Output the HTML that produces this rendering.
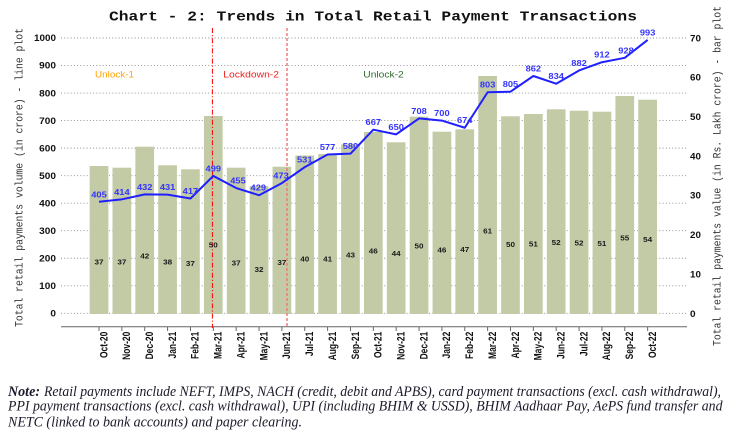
<!DOCTYPE html>
<html><head><meta charset="utf-8"><style>
html,body{margin:0;padding:0;background:#fff;}
svg{display:block;}
.tl{font-family:"Liberation Sans",Arial,sans-serif;font-weight:bold;font-size:9px;fill:#111;}
.ll{font-family:"Liberation Sans",Arial,sans-serif;font-weight:bold;font-size:8.5px;fill:#3333ff;text-anchor:middle;}
.bl{font-family:"Liberation Sans",Arial,sans-serif;font-weight:bold;font-size:7.5px;fill:#1a1a1a;text-anchor:middle;}
.xl{font-family:"Liberation Sans",Arial,sans-serif;font-weight:bold;font-size:11px;fill:#111;text-anchor:end;}
.mono{font-family:"Liberation Mono","Courier New",monospace;}
.nt{font-family:"Liberation Serif","Times New Roman",serif;font-style:italic;font-size:14.5px;fill:#1a1a2a;}
</style></head><body>
<svg width="732" height="439" viewBox="0 0 732 439" xmlns="http://www.w3.org/2000/svg">
<rect width="732" height="439" fill="#fff"/>
<!-- title -->
<text x="109" y="20.7" class="mono" font-weight="bold" font-size="13.5" fill="#111" textLength="528" lengthAdjust="spacingAndGlyphs">Chart - 2: Trends in Total Retail Payment Transactions</text>
<!-- gridlines -->
<g stroke="#8a8a8a" stroke-width="0.9" stroke-dasharray="1,2.2">
<line x1="61" y1="313.3" x2="687" y2="313.3"/>
<line x1="61" y1="285.77" x2="687" y2="285.77"/>
<line x1="61" y1="258.24" x2="687" y2="258.24"/>
<line x1="61" y1="230.71" x2="687" y2="230.71"/>
<line x1="61" y1="203.18" x2="687" y2="203.18"/>
<line x1="61" y1="175.65" x2="687" y2="175.65"/>
<line x1="61" y1="148.12" x2="687" y2="148.12"/>
<line x1="61" y1="120.59" x2="687" y2="120.59"/>
<line x1="61" y1="93.06" x2="687" y2="93.06"/>
<line x1="61" y1="65.53" x2="687" y2="65.53"/>
<line x1="61" y1="38" x2="687" y2="38"/>
</g>
<!-- bars -->
<g fill="#c3cba6">
<rect x="89.65" y="166" width="18.7" height="148"/>
<rect x="112.51" y="167.7" width="18.7" height="146.3"/>
<rect x="135.37" y="146.7" width="18.7" height="167.3"/>
<rect x="158.23" y="165.3" width="18.7" height="148.7"/>
<rect x="181.09" y="169.3" width="18.7" height="144.7"/>
<rect x="203.95" y="116" width="18.7" height="198"/>
<rect x="226.81" y="167.7" width="18.7" height="146.3"/>
<rect x="249.67" y="186" width="18.7" height="128"/>
<rect x="272.53" y="166.7" width="18.7" height="147.3"/>
<rect x="295.39" y="155.5" width="18.7" height="158.5"/>
<rect x="318.25" y="154" width="18.7" height="160"/>
<rect x="341.11" y="144.3" width="18.7" height="169.7"/>
<rect x="363.97" y="132" width="18.7" height="182"/>
<rect x="386.83" y="142.3" width="18.7" height="171.7"/>
<rect x="409.69" y="116.7" width="18.7" height="197.3"/>
<rect x="432.55" y="131.7" width="18.7" height="182.3"/>
<rect x="455.41" y="129.3" width="18.7" height="184.7"/>
<rect x="478.27" y="76" width="18.7" height="238"/>
<rect x="501.13" y="116.3" width="18.7" height="197.7"/>
<rect x="523.99" y="114" width="18.7" height="200"/>
<rect x="546.85" y="109.3" width="18.7" height="204.7"/>
<rect x="569.71" y="110.7" width="18.7" height="203.3"/>
<rect x="592.57" y="111.7" width="18.7" height="202.3"/>
<rect x="615.43" y="96" width="18.7" height="218"/>
<rect x="638.29" y="99.7" width="18.7" height="214.3"/>
</g>
<!-- axis line & ticks -->
<line x1="61" y1="326.7" x2="687" y2="326.7" stroke="#666" stroke-width="1"/>
<g stroke="#666" stroke-width="1">
<line x1="99" y1="326.7" x2="99" y2="331"/><line x1="121.86" y1="326.7" x2="121.86" y2="331"/><line x1="144.72" y1="326.7" x2="144.72" y2="331"/><line x1="167.58" y1="326.7" x2="167.58" y2="331"/><line x1="190.44" y1="326.7" x2="190.44" y2="331"/><line x1="213.3" y1="326.7" x2="213.3" y2="331"/><line x1="236.16" y1="326.7" x2="236.16" y2="331"/><line x1="259.02" y1="326.7" x2="259.02" y2="331"/><line x1="281.88" y1="326.7" x2="281.88" y2="331"/><line x1="304.74" y1="326.7" x2="304.74" y2="331"/><line x1="327.6" y1="326.7" x2="327.6" y2="331"/><line x1="350.46" y1="326.7" x2="350.46" y2="331"/><line x1="373.32" y1="326.7" x2="373.32" y2="331"/><line x1="396.18" y1="326.7" x2="396.18" y2="331"/><line x1="419.04" y1="326.7" x2="419.04" y2="331"/><line x1="441.9" y1="326.7" x2="441.9" y2="331"/><line x1="464.76" y1="326.7" x2="464.76" y2="331"/><line x1="487.62" y1="326.7" x2="487.62" y2="331"/><line x1="510.48" y1="326.7" x2="510.48" y2="331"/><line x1="533.34" y1="326.7" x2="533.34" y2="331"/><line x1="556.2" y1="326.7" x2="556.2" y2="331"/><line x1="579.06" y1="326.7" x2="579.06" y2="331"/><line x1="601.92" y1="326.7" x2="601.92" y2="331"/><line x1="624.78" y1="326.7" x2="624.78" y2="331"/><line x1="647.64" y1="326.7" x2="647.64" y2="331"/>
</g>
<!-- red vertical lines -->
<line x1="212.4" y1="28" x2="212.4" y2="328" stroke="#ff0000" stroke-width="1" stroke-dasharray="5,2,1.2,2"/>
<line x1="287" y1="28" x2="287" y2="328" stroke="#f07a7a" stroke-width="1.5" stroke-dasharray="3,2"/>
<!-- phase labels -->
<g font-family="'Liberation Sans',Arial,sans-serif" font-size="9">
<text x="95" y="77.5" fill="#ffa500" textLength="39" lengthAdjust="spacingAndGlyphs">Unlock-1</text>
<text x="223.3" y="77.5" fill="#f02020" textLength="55.7" lengthAdjust="spacingAndGlyphs">Lockdown-2</text>
<text x="363.3" y="77.5" fill="#2e6e2e" textLength="40.4" lengthAdjust="spacingAndGlyphs">Unlock-2</text>
</g>
<!-- blue line -->
<polyline fill="none" stroke="#1f1fff" stroke-width="2" stroke-linejoin="round" points="99,201.8 121.86,199.33 144.72,194.37 167.58,194.65 190.44,198.5 213.3,175.93 236.16,188.04 259.02,195.2 281.88,183.08 304.74,167.12 327.6,154.45 350.46,153.63 373.32,129.67 396.18,134.35 419.04,118.39 441.9,120.59 464.76,127.75 487.62,92.23 510.48,91.68 533.34,75.99 556.2,83.7 579.06,70.49 601.92,62.23 624.78,57.82 647.64,39.93"/>
<!-- line labels -->
<g class="ll">
<text x="99" y="197.3" textLength="15.5" lengthAdjust="spacingAndGlyphs">405</text>
<text x="121.86" y="194.8" textLength="15.5" lengthAdjust="spacingAndGlyphs">414</text>
<text x="144.72" y="189.9" textLength="15.5" lengthAdjust="spacingAndGlyphs">432</text>
<text x="167.58" y="190.1" textLength="15.5" lengthAdjust="spacingAndGlyphs">431</text>
<text x="190.44" y="194" textLength="15.5" lengthAdjust="spacingAndGlyphs">417</text>
<text x="213.3" y="171.4" textLength="15.5" lengthAdjust="spacingAndGlyphs">499</text>
<text x="238" y="183.5" textLength="15.5" lengthAdjust="spacingAndGlyphs">455</text>
<text x="258.3" y="190.7" textLength="15.5" lengthAdjust="spacingAndGlyphs">429</text>
<text x="281" y="178.6" textLength="15.5" lengthAdjust="spacingAndGlyphs">473</text>
<text x="304.74" y="162.6" textLength="15.5" lengthAdjust="spacingAndGlyphs">531</text>
<text x="327.6" y="149.9" textLength="15.5" lengthAdjust="spacingAndGlyphs">577</text>
<text x="350.46" y="149.1" textLength="15.5" lengthAdjust="spacingAndGlyphs">580</text>
<text x="373.32" y="125.2" textLength="15.5" lengthAdjust="spacingAndGlyphs">667</text>
<text x="396.18" y="129.8" textLength="15.5" lengthAdjust="spacingAndGlyphs">650</text>
<text x="419.04" y="113.9" textLength="15.5" lengthAdjust="spacingAndGlyphs">708</text>
<text x="441.9" y="116.1" textLength="15.5" lengthAdjust="spacingAndGlyphs">700</text>
<text x="464.76" y="123.2" textLength="15.5" lengthAdjust="spacingAndGlyphs">674</text>
<text x="487.62" y="87.7" textLength="15.5" lengthAdjust="spacingAndGlyphs">803</text>
<text x="510.48" y="87.2" textLength="15.5" lengthAdjust="spacingAndGlyphs">805</text>
<text x="533.34" y="71.5" textLength="15.5" lengthAdjust="spacingAndGlyphs">862</text>
<text x="556.2" y="79.2" textLength="15.5" lengthAdjust="spacingAndGlyphs">834</text>
<text x="579.06" y="66" textLength="15.5" lengthAdjust="spacingAndGlyphs">882</text>
<text x="601.92" y="57.7" textLength="15.5" lengthAdjust="spacingAndGlyphs">912</text>
<text x="626" y="53.3" textLength="15.5" lengthAdjust="spacingAndGlyphs">928</text>
<text x="647.64" y="35.4" textLength="15.5" lengthAdjust="spacingAndGlyphs">993</text>
</g>
<!-- bar labels -->
<g class="bl">
<text x="99" y="264.6" textLength="9" lengthAdjust="spacingAndGlyphs">37</text>
<text x="121.86" y="264.6" textLength="9" lengthAdjust="spacingAndGlyphs">37</text>
<text x="144.72" y="258.6" textLength="9" lengthAdjust="spacingAndGlyphs">42</text>
<text x="167.58" y="264.6" textLength="9" lengthAdjust="spacingAndGlyphs">38</text>
<text x="190.44" y="265.9" textLength="9" lengthAdjust="spacingAndGlyphs">37</text>
<text x="213.3" y="247.6" textLength="9" lengthAdjust="spacingAndGlyphs">50</text>
<text x="236.16" y="265.3" textLength="9" lengthAdjust="spacingAndGlyphs">37</text>
<text x="259.02" y="271.9" textLength="9" lengthAdjust="spacingAndGlyphs">32</text>
<text x="281.88" y="264.9" textLength="9" lengthAdjust="spacingAndGlyphs">37</text>
<text x="304.74" y="261.3" textLength="9" lengthAdjust="spacingAndGlyphs">40</text>
<text x="327.6" y="261.3" textLength="9" lengthAdjust="spacingAndGlyphs">41</text>
<text x="350.46" y="257.3" textLength="9" lengthAdjust="spacingAndGlyphs">43</text>
<text x="373.32" y="253.3" textLength="9" lengthAdjust="spacingAndGlyphs">46</text>
<text x="396.18" y="255.9" textLength="9" lengthAdjust="spacingAndGlyphs">44</text>
<text x="419.04" y="248.3" textLength="9" lengthAdjust="spacingAndGlyphs">50</text>
<text x="441.9" y="252.6" textLength="9" lengthAdjust="spacingAndGlyphs">46</text>
<text x="464.76" y="251.9" textLength="9" lengthAdjust="spacingAndGlyphs">47</text>
<text x="487.62" y="233.6" textLength="9" lengthAdjust="spacingAndGlyphs">61</text>
<text x="510.48" y="246.9" textLength="9" lengthAdjust="spacingAndGlyphs">50</text>
<text x="533.34" y="246.3" textLength="9" lengthAdjust="spacingAndGlyphs">51</text>
<text x="556.2" y="244.9" textLength="9" lengthAdjust="spacingAndGlyphs">52</text>
<text x="579.06" y="245.6" textLength="9" lengthAdjust="spacingAndGlyphs">52</text>
<text x="601.92" y="245.9" textLength="9" lengthAdjust="spacingAndGlyphs">51</text>
<text x="624.78" y="240.3" textLength="9" lengthAdjust="spacingAndGlyphs">55</text>
<text x="647.64" y="241.9" textLength="9" lengthAdjust="spacingAndGlyphs">54</text>
</g>
<!-- left tick labels -->
<g class="tl" text-anchor="end">
<text x="56" y="316.5" textLength="5.6" lengthAdjust="spacingAndGlyphs">0</text>
<text x="56" y="289" textLength="16.8" lengthAdjust="spacingAndGlyphs">100</text>
<text x="56" y="261.5" textLength="16.8" lengthAdjust="spacingAndGlyphs">200</text>
<text x="56" y="233.9" textLength="16.8" lengthAdjust="spacingAndGlyphs">300</text>
<text x="56" y="206.4" textLength="16.8" lengthAdjust="spacingAndGlyphs">400</text>
<text x="56" y="178.9" textLength="16.8" lengthAdjust="spacingAndGlyphs">500</text>
<text x="56" y="151.3" textLength="16.8" lengthAdjust="spacingAndGlyphs">600</text>
<text x="56" y="123.8" textLength="16.8" lengthAdjust="spacingAndGlyphs">700</text>
<text x="56" y="96.3" textLength="16.8" lengthAdjust="spacingAndGlyphs">800</text>
<text x="56" y="68.7" textLength="16.8" lengthAdjust="spacingAndGlyphs">900</text>
<text x="56" y="41.2" textLength="22" lengthAdjust="spacingAndGlyphs">1000</text>
</g>
<!-- right tick labels -->
<g class="tl">
<text x="690" y="41.6" textLength="10.9" lengthAdjust="spacingAndGlyphs">70</text>
<text x="690" y="80.6" textLength="10.9" lengthAdjust="spacingAndGlyphs">60</text>
<text x="690" y="120.2" textLength="10.9" lengthAdjust="spacingAndGlyphs">50</text>
<text x="690" y="159.6" textLength="10.9" lengthAdjust="spacingAndGlyphs">40</text>
<text x="690" y="198.6" textLength="10.9" lengthAdjust="spacingAndGlyphs">30</text>
<text x="690" y="238.2" textLength="10.9" lengthAdjust="spacingAndGlyphs">20</text>
<text x="690" y="277.6" textLength="10.9" lengthAdjust="spacingAndGlyphs">10</text>
<text x="690" y="317.2" textLength="5.6" lengthAdjust="spacingAndGlyphs">0</text>
</g>
<!-- x labels -->
<g class="xl">
<text transform="translate(107.3,331.7) rotate(-90) scale(0.77,1)">Oct-20</text>
<text transform="translate(130.16,331.7) rotate(-90) scale(0.77,1)">Nov-20</text>
<text transform="translate(153.02,331.7) rotate(-90) scale(0.77,1)">Dec-20</text>
<text transform="translate(175.88,331.7) rotate(-90) scale(0.77,1)">Jan-21</text>
<text transform="translate(198.74,331.7) rotate(-90) scale(0.77,1)">Feb-21</text>
<text transform="translate(221.6,331.7) rotate(-90) scale(0.77,1)">Mar-21</text>
<text transform="translate(244.46,331.7) rotate(-90) scale(0.77,1)">Apr-21</text>
<text transform="translate(267.32,331.7) rotate(-90) scale(0.77,1)">May-21</text>
<text transform="translate(290.18,331.7) rotate(-90) scale(0.77,1)">Jun-21</text>
<text transform="translate(313.04,331.7) rotate(-90) scale(0.77,1)">Jul-21</text>
<text transform="translate(335.9,331.7) rotate(-90) scale(0.77,1)">Aug-21</text>
<text transform="translate(358.76,331.7) rotate(-90) scale(0.77,1)">Sep-21</text>
<text transform="translate(381.62,331.7) rotate(-90) scale(0.77,1)">Oct-21</text>
<text transform="translate(404.48,331.7) rotate(-90) scale(0.77,1)">Nov-21</text>
<text transform="translate(427.34,331.7) rotate(-90) scale(0.77,1)">Dec-21</text>
<text transform="translate(450.2,331.7) rotate(-90) scale(0.77,1)">Jan-22</text>
<text transform="translate(473.06,331.7) rotate(-90) scale(0.77,1)">Feb-22</text>
<text transform="translate(495.92,331.7) rotate(-90) scale(0.77,1)">Mar-22</text>
<text transform="translate(518.78,331.7) rotate(-90) scale(0.77,1)">Apr-22</text>
<text transform="translate(541.64,331.7) rotate(-90) scale(0.77,1)">May-22</text>
<text transform="translate(564.5,331.7) rotate(-90) scale(0.77,1)">Jun-22</text>
<text transform="translate(587.36,331.7) rotate(-90) scale(0.77,1)">Jul-22</text>
<text transform="translate(610.22,331.7) rotate(-90) scale(0.77,1)">Aug-22</text>
<text transform="translate(633.08,331.7) rotate(-90) scale(0.77,1)">Sep-22</text>
<text transform="translate(655.94,331.7) rotate(-90) scale(0.77,1)">Oct-22</text>
</g>
<!-- axis titles -->
<text transform="translate(22.5,327) rotate(-90)" class="mono" font-size="11" fill="#333" textLength="299" lengthAdjust="spacingAndGlyphs">Total retail payments volume (in crore) - line plot</text>
<text transform="translate(720.5,346) rotate(-90)" class="mono" font-size="11" fill="#333" textLength="340" lengthAdjust="spacingAndGlyphs">Total retail payments value (in Rs. Lakh crore) - bar plot</text>
<!-- note -->
<text x="8" y="396" class="nt" font-weight="bold" textLength="32" lengthAdjust="spacingAndGlyphs">Note:</text>
<text x="44" y="396" class="nt" textLength="677" lengthAdjust="spacingAndGlyphs">Retail payments include NEFT, IMPS, NACH (credit, debit and APBS), card payment transactions (excl. cash withdrawal),</text>
<text x="8" y="410.7" class="nt" textLength="714.5" lengthAdjust="spacingAndGlyphs">PPI payment transactions (excl. cash withdrawal), UPI (including BHIM &amp; USSD), BHIM Aadhaar Pay, AePS fund transfer and</text>
<text x="8" y="426.5" class="nt" textLength="294" lengthAdjust="spacingAndGlyphs">NETC (linked to bank accounts) and paper clearing.</text>
</svg>
</body></html>
